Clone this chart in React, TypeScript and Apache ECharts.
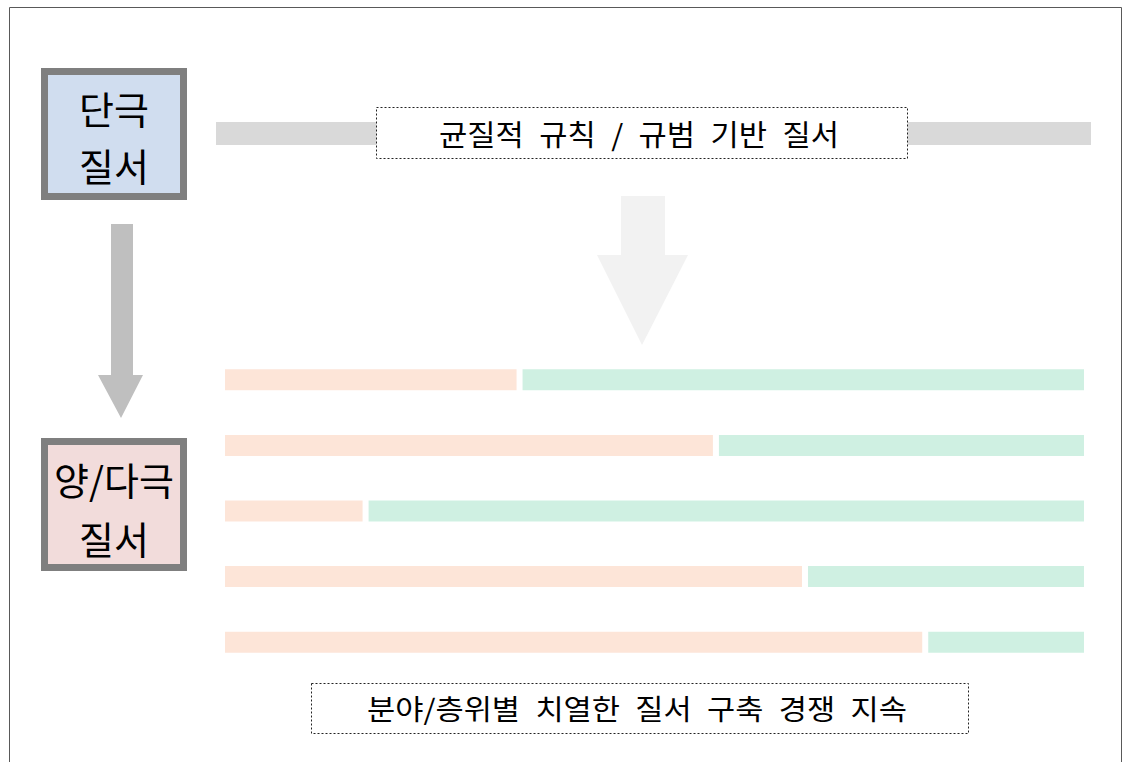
import React, { useEffect, useRef } from "react";
import * as echarts from "echarts";

const rows = ["1", "2", "3", "4", "5"];
const orangeShare = [34.4, 57.1, 16.6, 67.4, 81.3];
const greenShare = [65.6, 42.9, 83.4, 32.6, 18.7];
const topLabel = "균질적 규칙 / 규범 기반 질서";
const bottomLabel = "분야/층위별 치열한 질서 구축 경쟁 지속";
const box1Lines = ["단극", "질서"];
const box2Lines = ["양/다극", "질서"];

const FONT = '"Noto Sans CJK KR", "Noto Sans", sans-serif';
const wide = (s: string) => s.split(" ").join("\u2002");

export default function App() {
  const ref = useRef<HTMLDivElement>(null);
  useEffect(() => {
    if (!ref.current) return;
    const chart = echarts.init(ref.current, undefined, { renderer: "svg" });
    const txt = (x: number, y: number, text: string, size: number, sx = 1) => ({
      type: "text",
      x,
      y,
      scaleX: sx,
      style: {
        text,
        fill: "#000",
        font: `${size}px ${FONT}`,
        align: "center",
        verticalAlign: "middle",
      },
    });
    chart.setOption({
      animation: false,
      backgroundColor: "#fff",
      grid: { left: 222, right: 1138 - 1087, top: 347, bottom: 762 - 675 },
      xAxis: { type: "value", min: 0, max: 100, show: false },
      yAxis: { type: "category", data: rows, inverse: true, show: false },
      series: [
        {
          type: "bar",
          stack: "s",
          data: orangeShare,
          barWidth: 27,
          itemStyle: { color: "#fde5d8", borderColor: "#fff", borderWidth: 3 },
        },
        {
          type: "bar",
          stack: "s",
          data: greenShare,
          barWidth: 27,
          itemStyle: { color: "#cff0e2", borderColor: "#fff", borderWidth: 3 },
        },
      ],
      graphic: [
        {
          type: "rect",
          shape: { x: 9.5, y: 7.5, width: 1112, height: 800 },
          style: { fill: "none", stroke: "#595959", lineWidth: 1 },
        },
        {
          type: "rect",
          shape: { x: 44.5, y: 71.5, width: 139, height: 125 },
          style: { fill: "#d0ddef", stroke: "#7f7f7f", lineWidth: 7 },
        },
        txt(114, 107, box1Lines[0], 38),
        txt(114, 164, box1Lines[1], 38),
        {
          type: "rect",
          shape: { x: 44.5, y: 441.5, width: 139, height: 126 },
          style: { fill: "#f2dcdb", stroke: "#7f7f7f", lineWidth: 7 },
        },
        txt(114, 478, box2Lines[0], 38),
        txt(114, 537, box2Lines[1], 38),
        {
          type: "polygon",
          shape: {
            points: [
              [111, 224],
              [133, 224],
              [133, 375],
              [143, 375],
              [121, 418],
              [98, 375],
              [111, 375],
            ],
          },
          style: { fill: "#bfbfbf" },
        },
        {
          type: "polygon",
          shape: {
            points: [
              [621, 196],
              [665, 196],
              [665, 255],
              [688, 255],
              [642, 345],
              [597, 255],
              [621, 255],
            ],
          },
          style: { fill: "#f2f2f2" },
        },
        {
          type: "rect",
          shape: { x: 216, y: 122, width: 875, height: 23 },
          style: { fill: "#d9d9d9" },
        },
        {
          type: "rect",
          shape: { x: 376.5, y: 107.5, width: 531, height: 51 },
          style: { fill: "#fff", stroke: "#222", lineWidth: 1, lineDash: [2, 2] },
        },
        txt(639, 133, wide(topLabel), 29, 1.06),
        {
          type: "rect",
          shape: { x: 311.5, y: 683.5, width: 657, height: 50 },
          style: { fill: "#fff", stroke: "#222", lineWidth: 1, lineDash: [2, 2] },
        },
        txt(637, 708, wide(bottomLabel), 28, 1.095),
      ],
    });
    return () => chart.dispose();
  }, []);
  return (
    <div
      ref={ref}
      style={{ position: "absolute", left: 0, top: 0, width: 1138, height: 762 }}
    />
  );
}
